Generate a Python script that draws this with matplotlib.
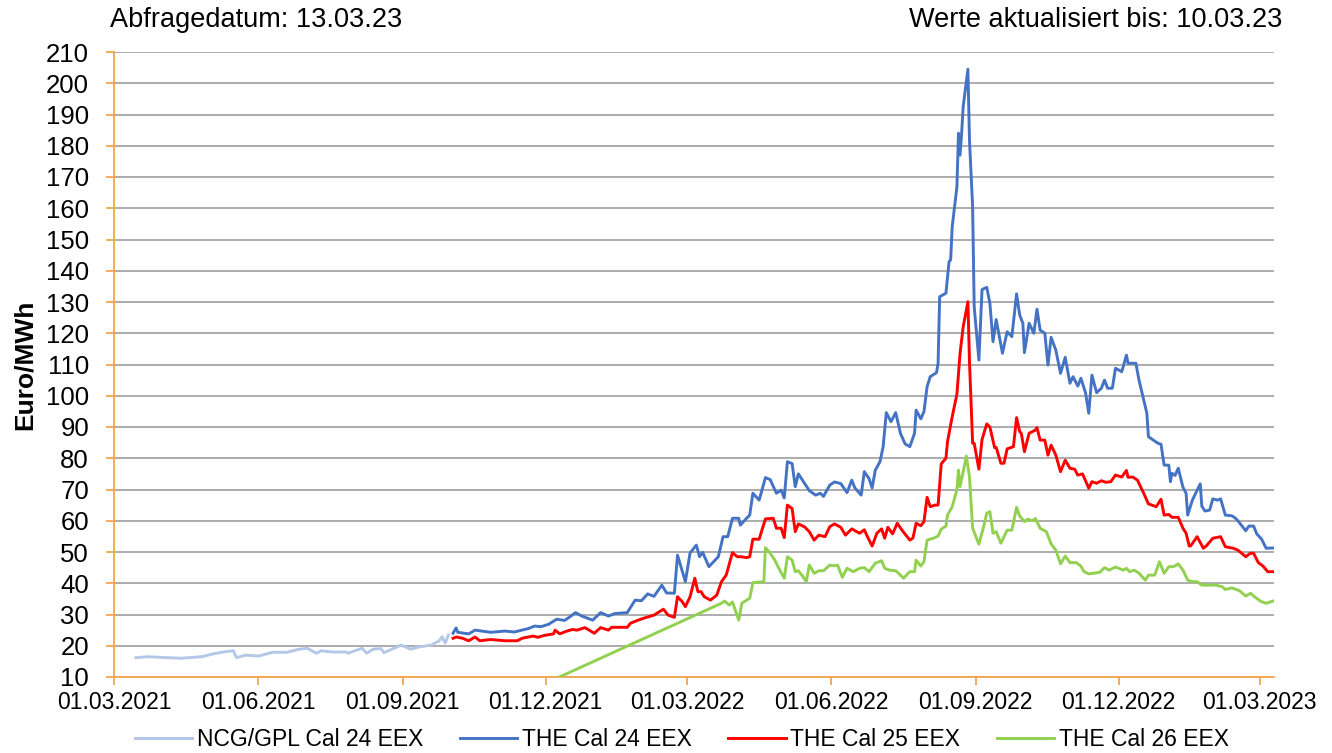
import matplotlib
matplotlib.use("Agg")
import matplotlib.pyplot as plt
import matplotlib.dates as mdates
import pandas as pd

plt.rcParams['font.family'] = ['Liberation Sans', 'DejaVu Sans']

# NCG/GPL Cal 24 EEX
ncg_dates = ["2021-03-15", "2021-03-23", "2021-03-30", "2021-04-13", "2021-04-26", "2021-05-03",
             "2021-05-11", "2021-05-16", "2021-05-18", "2021-05-24", "2021-06-01", "2021-06-10",
             "2021-06-19", "2021-06-27", "2021-07-02", "2021-07-08", "2021-07-11", "2021-07-18",
             "2021-07-27", "2021-07-28", "2021-08-06", "2021-08-09", "2021-08-13", "2021-08-18",
             "2021-08-20", "2021-08-25", "2021-08-31", "2021-09-06", "2021-09-11", "2021-09-19",
             "2021-09-24", "2021-09-26", "2021-09-28", "2021-09-30"]
ncg_values = [16.2, 16.5, 16.3, 16.0, 16.5, 17.4, 18.1, 18.4, 16.2, 17.0, 16.7, 17.9,
              17.9, 18.9, 19.2, 17.6, 18.4, 18.0, 18.0, 17.6, 19.2, 17.6, 18.9, 19.1,
              17.8, 18.9, 20.2, 18.9, 19.6, 20.2, 21.5, 22.9, 20.9, 23.4]

# THE Cal 24 EEX
the24_dates = ["2021-10-03", "2021-10-05", "2021-10-06", "2021-10-13", "2021-10-17", "2021-10-27",
               "2021-11-05", "2021-11-11", "2021-11-20", "2021-11-24", "2021-11-28", "2021-12-03",
               "2021-12-08", "2021-12-13", "2021-12-16", "2021-12-20", "2021-12-24", "2021-12-31",
               "2022-01-05", "2022-01-10", "2022-01-14", "2022-01-22", "2022-01-27", "2022-01-31",
               "2022-02-04", "2022-02-08", "2022-02-13", "2022-02-16", "2022-02-21", "2022-02-23",
               "2022-02-28", "2022-03-03", "2022-03-07", "2022-03-09", "2022-03-11", "2022-03-15",
               "2022-03-21", "2022-03-24", "2022-03-27", "2022-03-30", "2022-04-03", "2022-04-04",
               "2022-04-08", "2022-04-10", "2022-04-12", "2022-04-16", "2022-04-20", "2022-04-23",
               "2022-04-27", "2022-04-30", "2022-05-02", "2022-05-04", "2022-05-07", "2022-05-09",
               "2022-05-11", "2022-05-15", "2022-05-18", "2022-05-22", "2022-05-25", "2022-05-27",
               "2022-05-31", "2022-06-03", "2022-06-07", "2022-06-11", "2022-06-14", "2022-06-16",
               "2022-06-20", "2022-06-22", "2022-06-25", "2022-06-27", "2022-06-29", "2022-07-02",
               "2022-07-04", "2022-07-06", "2022-07-09", "2022-07-12", "2022-07-15", "2022-07-18",
               "2022-07-21", "2022-07-24", "2022-07-25", "2022-07-28", "2022-07-30", "2022-08-01",
               "2022-08-03", "2022-08-07", "2022-08-08", "2022-08-09", "2022-08-13", "2022-08-15",
               "2022-08-16", "2022-08-17", "2022-08-20", "2022-08-21", "2022-08-22", "2022-08-23",
               "2022-08-24", "2022-08-27", "2022-08-28", "2022-08-30", "2022-08-31", "2022-09-03",
               "2022-09-05", "2022-09-08", "2022-09-10", "2022-09-12", "2022-09-14", "2022-09-18",
               "2022-09-21", "2022-09-24", "2022-09-27", "2022-09-29", "2022-10-01", "2022-10-02",
               "2022-10-05", "2022-10-08", "2022-10-10", "2022-10-12", "2022-10-15", "2022-10-17",
               "2022-10-19", "2022-10-22", "2022-10-25", "2022-10-28", "2022-10-31", "2022-11-02",
               "2022-11-05", "2022-11-07", "2022-11-10", "2022-11-12", "2022-11-14", "2022-11-17",
               "2022-11-20", "2022-11-22", "2022-11-24", "2022-11-27", "2022-11-29", "2022-12-03",
               "2022-12-06", "2022-12-07", "2022-12-12", "2022-12-14", "2022-12-19", "2022-12-20",
               "2022-12-26", "2022-12-28", "2022-12-30", "2023-01-02", "2023-01-03", "2023-01-04",
               "2023-01-06", "2023-01-08", "2023-01-11", "2023-01-13", "2023-01-14", "2023-01-17",
               "2023-01-22", "2023-01-23", "2023-01-25", "2023-01-28", "2023-01-30", "2023-02-02",
               "2023-02-04", "2023-02-07", "2023-02-11", "2023-02-13", "2023-02-15", "2023-02-18",
               "2023-02-20", "2023-02-22", "2023-02-25", "2023-02-27", "2023-03-02", "2023-03-05",
               "2023-03-10"]
the24_values = [24.0, 25.7, 24.3, 23.8, 25.0, 24.3,
                24.7, 24.4, 25.5, 26.3, 26.1, 26.9,
                28.5, 28.1, 29.1, 30.6, 29.5, 28.2,
                30.6, 29.5, 30.3, 30.6, 34.6, 34.4,
                36.6, 35.8, 39.4, 36.9, 36.8, 49.0,
                40.5, 49.7, 52.2, 48.5, 49.9, 45.3,
                48.5, 54.9, 54.9, 60.8, 60.8, 58.6,
                60.8, 61.8, 68.8, 66.6, 73.8, 73.2,
                68.8, 69.8, 67.3, 78.9, 78.3, 70.9,
                75.0, 71.9, 69.6, 68.2, 68.8, 67.8,
                71.4, 72.4, 71.9, 69.0, 73.0, 70.5,
                68.2, 75.7, 73.5, 70.5, 76.2, 78.9,
                83.7, 94.6, 91.7, 94.6, 88.0, 84.6,
                83.7, 88.0, 95.4, 92.6, 94.9, 102.9,
                106.1, 107.4, 110.4, 131.7, 132.8, 142.9,
                143.5, 154.1, 166.9, 184.0, 177.0, 184.0,
                192.6, 204.5, 181.8, 160.5, 128.5, 111.4,
                134.0, 134.7, 129.6, 117.3, 124.4, 113.6,
                120.5, 118.9, 132.6, 125.8, 123.2, 113.8,
                123.2, 120.0, 127.7, 121.0, 120.0, 109.8,
                118.7, 114.6, 107.2, 112.3, 104.0, 106.1,
                103.1, 105.6, 100.8, 94.4, 106.6, 101.0,
                102.4, 105.0, 102.4, 102.4, 108.8, 107.7,
                113.0, 110.4, 110.4, 105.0, 94.4, 86.9,
                84.8, 84.5, 77.8, 77.8, 72.5, 75.2,
                74.5, 76.8, 70.7, 68.8, 61.8, 66.6,
                71.8, 64.7, 63.1, 63.4, 67.0, 66.6,
                67.0, 61.8, 61.6, 61.0, 60.0, 58.1,
                56.8, 58.3, 58.3, 55.8, 54.2, 51.2,
                51.3]

# THE Cal 25 EEX
the25_dates = ["2021-10-03", "2021-10-05", "2021-10-09", "2021-10-13", "2021-10-17", "2021-10-20",
               "2021-10-27", "2021-11-05", "2021-11-13", "2021-11-16", "2021-11-23", "2021-11-26",
               "2021-11-30", "2021-12-06", "2021-12-07", "2021-12-10", "2021-12-14", "2021-12-18",
               "2021-12-21", "2021-12-26", "2022-01-01", "2022-01-05", "2022-01-10", "2022-01-12",
               "2022-01-17", "2022-01-22", "2022-01-24", "2022-01-29", "2022-02-02", "2022-02-08",
               "2022-02-14", "2022-02-17", "2022-02-21", "2022-02-23", "2022-02-26", "2022-02-28",
               "2022-03-03", "2022-03-06", "2022-03-08", "2022-03-10", "2022-03-12", "2022-03-16",
               "2022-03-20", "2022-03-23", "2022-03-26", "2022-03-30", "2022-04-02", "2022-04-04",
               "2022-04-08", "2022-04-10", "2022-04-12", "2022-04-16", "2022-04-20", "2022-04-25",
               "2022-04-27", "2022-04-30", "2022-05-02", "2022-05-04", "2022-05-07", "2022-05-09",
               "2022-05-11", "2022-05-15", "2022-05-18", "2022-05-21", "2022-05-24", "2022-05-28",
               "2022-05-31", "2022-06-03", "2022-06-07", "2022-06-10", "2022-06-14", "2022-06-19",
               "2022-06-22", "2022-06-24", "2022-06-27", "2022-06-30", "2022-07-03", "2022-07-05",
               "2022-07-07", "2022-07-10", "2022-07-13", "2022-07-16", "2022-07-21", "2022-07-23",
               "2022-07-25", "2022-07-28", "2022-07-30", "2022-08-01", "2022-08-03", "2022-08-06",
               "2022-08-08", "2022-08-10", "2022-08-13", "2022-08-14", "2022-08-17", "2022-08-20",
               "2022-08-22", "2022-08-24", "2022-08-27", "2022-08-28", "2022-08-30", "2022-08-31",
               "2022-09-03", "2022-09-05", "2022-09-08", "2022-09-10", "2022-09-13", "2022-09-14",
               "2022-09-17", "2022-09-19", "2022-09-21", "2022-09-25", "2022-09-27", "2022-09-29",
               "2022-09-30", "2022-10-02", "2022-10-05", "2022-10-09", "2022-10-10", "2022-10-12",
               "2022-10-15", "2022-10-17", "2022-10-19", "2022-10-22", "2022-10-25", "2022-10-28",
               "2022-10-31", "2022-11-03", "2022-11-05", "2022-11-08", "2022-11-12", "2022-11-14",
               "2022-11-17", "2022-11-20", "2022-11-23", "2022-11-26", "2022-11-29", "2022-12-03",
               "2022-12-06", "2022-12-07", "2022-12-10", "2022-12-13", "2022-12-17", "2022-12-20",
               "2022-12-25", "2022-12-28", "2022-12-30", "2023-01-02", "2023-01-04", "2023-01-08",
               "2023-01-11", "2023-01-13", "2023-01-15", "2023-01-16", "2023-01-20", "2023-01-24",
               "2023-01-26", "2023-01-30", "2023-02-04", "2023-02-07", "2023-02-12", "2023-02-15",
               "2023-02-20", "2023-02-23", "2023-02-25", "2023-02-28", "2023-03-03", "2023-03-06",
               "2023-03-10"]
the25_values = [22.4, 22.8, 22.4, 21.6, 22.8, 21.6,
                22.0, 21.6, 21.6, 22.4, 23.1, 22.7,
                23.3, 23.8, 25.0, 23.8, 24.6, 25.2,
                25.0, 25.8, 24.0, 25.8, 25.0, 25.9,
                25.9, 25.9, 27.2, 28.2, 28.9, 29.8,
                31.7, 29.8, 29.1, 35.7, 34.1, 32.5,
                35.7, 41.6, 37.3, 37.3, 35.7, 34.6,
                36.2, 40.5, 42.6, 49.8, 48.5, 48.5,
                48.2, 48.5, 54.1, 54.1, 60.6, 60.8,
                57.6, 57.6, 54.6, 65.0, 63.9, 56.5,
                59.0, 58.0, 56.5, 53.8, 55.4, 54.9,
                58.1, 59.0, 57.9, 55.4, 57.4, 56.0,
                57.1, 54.9, 51.9, 56.0, 57.4, 54.4,
                57.9, 55.8, 59.2, 57.0, 53.8, 54.5,
                59.2, 58.4, 59.7, 67.5, 64.5, 65.0,
                65.0, 78.2, 80.0, 85.3, 93.3, 100.5,
                113.6, 122.1, 130.1, 110.9, 84.8, 84.8,
                76.5, 86.0, 91.0, 90.0, 83.4, 83.5,
                78.4, 78.4, 83.0, 83.7, 93.0, 88.5,
                88.0, 82.1, 88.0, 89.0, 89.8, 85.8,
                85.8, 81.0, 84.2, 81.0, 75.7, 79.4,
                76.8, 76.5, 74.6, 75.0, 70.4, 72.5,
                72.0, 72.8, 72.3, 72.5, 74.6, 74.0,
                76.1, 73.9, 74.0, 73.0, 68.8, 65.4,
                64.5, 66.9, 61.8, 62.0, 61.1, 61.1,
                57.6, 56.0, 51.9, 52.0, 54.9, 51.2,
                52.0, 54.4, 54.9, 51.7, 51.2, 50.6,
                48.5, 49.6, 49.6, 46.6, 45.5, 43.7,
                43.7]

# THE Cal 26 EEX
the26_dates = ["2021-10-27", "2022-03-23", "2022-03-25", "2022-03-28", "2022-03-30", "2022-04-03",
               "2022-04-05", "2022-04-08", "2022-04-10", "2022-04-12", "2022-04-19", "2022-04-20",
               "2022-04-23", "2022-04-26", "2022-04-28", "2022-05-02", "2022-05-04", "2022-05-07",
               "2022-05-09", "2022-05-11", "2022-05-14", "2022-05-16", "2022-05-18", "2022-05-21",
               "2022-05-24", "2022-05-27", "2022-05-31", "2022-06-03", "2022-06-05", "2022-06-08",
               "2022-06-11", "2022-06-15", "2022-06-19", "2022-06-22", "2022-06-25", "2022-06-29",
               "2022-07-03", "2022-07-05", "2022-07-08", "2022-07-12", "2022-07-15", "2022-07-17",
               "2022-07-21", "2022-07-24", "2022-07-25", "2022-07-28", "2022-07-30", "2022-08-01",
               "2022-08-05", "2022-08-08", "2022-08-10", "2022-08-13", "2022-08-14", "2022-08-17",
               "2022-08-20", "2022-08-21", "2022-08-22", "2022-08-24", "2022-08-26", "2022-08-28",
               "2022-08-30", "2022-09-03", "2022-09-06", "2022-09-08", "2022-09-10", "2022-09-12",
               "2022-09-14", "2022-09-17", "2022-09-21", "2022-09-24", "2022-09-27", "2022-09-29",
               "2022-10-02", "2022-10-04", "2022-10-07", "2022-10-09", "2022-10-12", "2022-10-16",
               "2022-10-19", "2022-10-22", "2022-10-25", "2022-10-28", "2022-10-31", "2022-11-04",
               "2022-11-07", "2022-11-09", "2022-11-12", "2022-11-15", "2022-11-19", "2022-11-22",
               "2022-11-25", "2022-11-29", "2022-12-04", "2022-12-06", "2022-12-08", "2022-12-11",
               "2022-12-14", "2022-12-18", "2022-12-20", "2022-12-24", "2022-12-27", "2022-12-30",
               "2023-01-02", "2023-01-05", "2023-01-08", "2023-01-11", "2023-01-14", "2023-01-17",
               "2023-01-20", "2023-01-23", "2023-01-28", "2023-02-01", "2023-02-05", "2023-02-07",
               "2023-02-11", "2023-02-13", "2023-02-16", "2023-02-20", "2023-02-23", "2023-02-26",
               "2023-03-02", "2023-03-05", "2023-03-10"]
the26_values = [0.0, 33.6, 34.3, 33.0, 34.0, 28.2,
                33.6, 34.6, 35.2, 40.2, 40.5, 51.4,
                49.6, 47.4, 45.3, 41.6, 48.5, 47.4,
                43.7, 44.0, 42.1, 40.5, 45.8, 43.2,
                44.0, 44.0, 45.8, 45.6, 45.8, 41.9,
                44.8, 43.7, 44.8, 45.0, 43.7, 46.4,
                47.2, 44.8, 44.2, 44.0, 42.6, 41.6,
                43.7, 43.7, 47.4, 45.5, 46.9, 53.8,
                54.4, 55.1, 57.3, 58.3, 61.8, 64.5,
                70.0, 76.2, 70.9, 75.7, 80.7, 74.1,
                57.6, 52.5, 58.1, 62.4, 62.9, 56.0,
                56.5, 52.8, 57.0, 57.0, 64.3, 61.5,
                59.7, 60.5, 60.0, 60.7, 57.6, 56.5,
                52.6, 50.6, 46.2, 48.7, 46.6, 46.6,
                45.5, 43.7, 43.0, 43.2, 43.5, 45.0,
                44.2, 45.2, 44.2, 44.8, 43.7, 44.2,
                43.2, 41.0, 42.6, 42.6, 46.9, 43.2,
                45.3, 45.3, 46.2, 44.2, 41.0, 40.5,
                40.5, 39.4, 39.4, 39.4, 38.9, 38.0,
                38.5, 38.2, 37.6, 35.9, 36.8, 35.5,
                34.1, 33.6, 34.4]

series = [
    ("NCG/GPL Cal 24 EEX", ncg_dates, ncg_values, "#B4C7E7"),
    ("THE Cal 24 EEX", the24_dates, the24_values, "#4472C4"),
    ("THE Cal 25 EEX", the25_dates, the25_values, "#FF0000"),
    ("THE Cal 26 EEX", the26_dates, the26_values, "#92D050"),
]

x_ticks = ["2021-03-01", "2021-06-01", "2021-09-01", "2021-12-01", "2022-03-01",
           "2022-06-01", "2022-09-01", "2022-12-01", "2023-03-01"]

fig = plt.figure(figsize=(13.32, 7.53), dpi=100)
ax = fig.add_axes([114 / 1332, 1 - 677 / 753, 1160 / 1332, 625 / 753])

handles = []
for label, dates, values, color in series:
    line, = ax.plot(pd.to_datetime(dates), values, color=color, lw=2.1, label=label,
                    solid_joinstyle="round", zorder=3)
    handles.append(line)

ax.set_xlim(pd.Timestamp("2021-03-01"), pd.Timestamp("2023-03-10"))
ax.set_ylim(10, 210)
ax.set_yticks(range(10, 211, 10))
ax.set_xticks(pd.to_datetime(x_ticks))
ax.xaxis.set_major_formatter(mdates.DateFormatter("%d.%m.%Y"))

ax.grid(axis="y", color="#A6A6A6", lw=1.3, zorder=0)
ax.set_axisbelow(True)
for side in ["top", "right"]:
    ax.spines[side].set_visible(False)
for side in ["left", "bottom"]:
    ax.spines[side].set_color("#F4A54C")
    ax.spines[side].set_linewidth(1.3)
ax.tick_params(axis="both", colors="#F4A54C", width=1.3, length=6, labelcolor="black")
ax.tick_params(axis="x", pad=4, labelsize=16.5)
ax.tick_params(axis="y", pad=12, labelsize=18.5)

fig.text(25 / 1332, 1 - 365 / 753, "Euro/MWh", rotation=90, fontsize=19, fontweight="bold",
         ha="center", va="center")
fig.text(110 / 1332, 1 - 20 / 753, "Abfragedatum: 13.03.23", fontsize=19.5, ha="left",
         va="center")
fig.text(1282 / 1332, 1 - 20 / 753, "Werte aktualisiert bis: 10.03.23", fontsize=19.5,
         ha="right", va="center")

fig.legend(handles=handles, loc="center", bbox_to_anchor=(682 / 1332, 1 - 740 / 753), ncol=4,
           frameon=False, fontsize=16.5, handlelength=2.5, columnspacing=1.6, handletextpad=0.2)

fig.savefig("out.png", dpi=100)
